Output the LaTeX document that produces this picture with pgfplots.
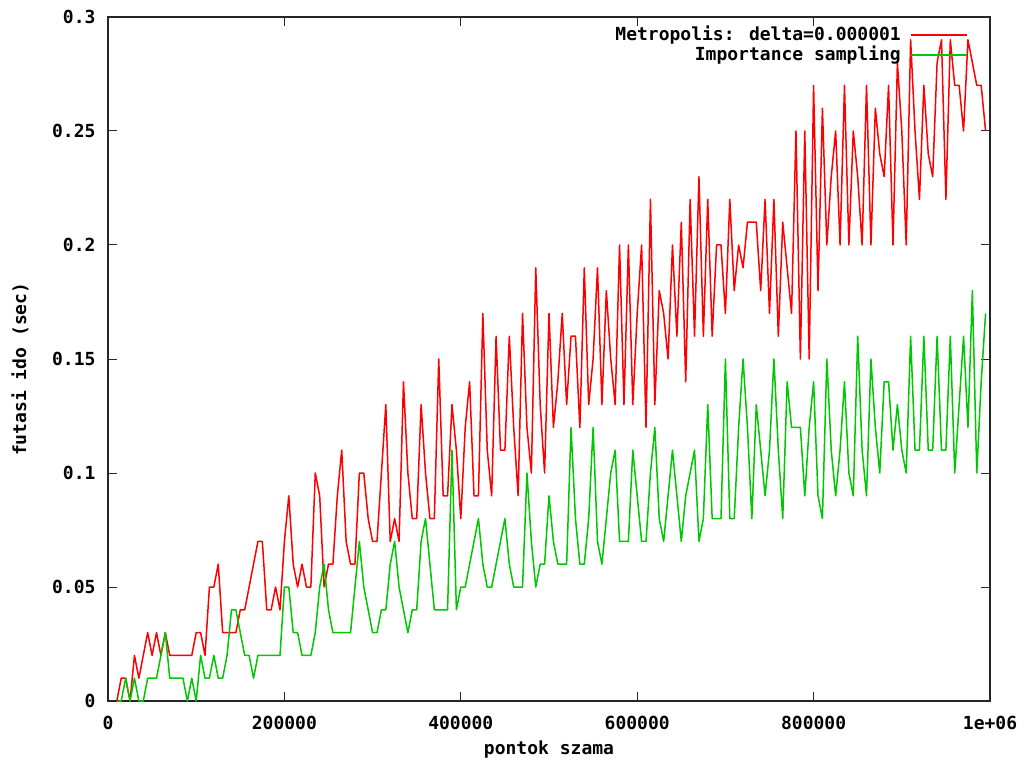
\documentclass[border=0pt]{standalone}
\usepackage{fontspec}
\setmainfont{DejaVu Sans Mono}
\usepackage{pgfplots}
\pgfplotsset{compat=1.18}
\usepackage{pgfplotstable}
\definecolor{gpred}{RGB}{255,0,0}
\definecolor{gpgreen}{RGB}{0,200,0}
\newcommand{\gpf}{\fontsize{18}{21}\selectfont\bfseries}

\pgfplotstableread{
x y
10000 0
15000 0.01
20000 0.01
25000 0
30000 0.02
35000 0.01
40000 0.02
45000 0.03
50000 0.02
55000 0.03
60000 0.02
65000 0.03
70000 0.02
75000 0.02
80000 0.02
85000 0.02
90000 0.02
95000 0.02
100000 0.03
105000 0.03
110000 0.02
115000 0.05
120000 0.05
125000 0.06
130000 0.03
135000 0.03
140000 0.03
145000 0.03
150000 0.04
155000 0.04
160000 0.05
165000 0.06
170000 0.07
175000 0.07
180000 0.04
185000 0.04
190000 0.05
195000 0.04
200000 0.07
205000 0.09
210000 0.06
215000 0.05
220000 0.06
225000 0.05
230000 0.05
235000 0.10
240000 0.09
245000 0.05
250000 0.06
255000 0.06
260000 0.09
265000 0.11
270000 0.07
275000 0.06
280000 0.06
285000 0.10
290000 0.10
295000 0.08
300000 0.07
305000 0.07
310000 0.10
315000 0.13
320000 0.07
325000 0.08
330000 0.07
335000 0.14
340000 0.10
345000 0.08
350000 0.08
355000 0.13
360000 0.10
365000 0.08
370000 0.08
375000 0.15
380000 0.09
385000 0.09
390000 0.13
395000 0.11
400000 0.08
405000 0.12
410000 0.14
415000 0.09
420000 0.09
425000 0.17
430000 0.11
435000 0.09
440000 0.16
445000 0.11
450000 0.11
455000 0.16
460000 0.12
465000 0.09
470000 0.17
475000 0.12
480000 0.10
485000 0.19
490000 0.13
495000 0.10
500000 0.17
505000 0.12
510000 0.14
515000 0.17
520000 0.13
525000 0.16
530000 0.16
535000 0.12
540000 0.19
545000 0.13
550000 0.15
555000 0.19
560000 0.13
565000 0.18
570000 0.15
575000 0.13
580000 0.20
585000 0.13
590000 0.20
595000 0.13
600000 0.17
605000 0.20
610000 0.12
615000 0.22
620000 0.13
625000 0.18
630000 0.17
635000 0.15
640000 0.20
645000 0.16
650000 0.21
655000 0.14
660000 0.22
665000 0.16
670000 0.23
675000 0.16
680000 0.22
685000 0.16
690000 0.20
695000 0.20
700000 0.17
705000 0.22
710000 0.18
715000 0.20
720000 0.19
725000 0.21
730000 0.21
735000 0.21
740000 0.18
745000 0.22
750000 0.17
755000 0.22
760000 0.16
765000 0.21
770000 0.19
775000 0.17
780000 0.25
785000 0.15
790000 0.25
795000 0.15
800000 0.27
805000 0.18
810000 0.26
815000 0.20
820000 0.23
825000 0.25
830000 0.20
835000 0.27
840000 0.20
845000 0.25
850000 0.23
855000 0.20
860000 0.27
865000 0.20
870000 0.26
875000 0.24
880000 0.23
885000 0.27
890000 0.20
895000 0.28
900000 0.25
905000 0.20
910000 0.29
915000 0.25
920000 0.22
925000 0.27
930000 0.24
935000 0.23
940000 0.28
945000 0.29
950000 0.22
955000 0.29
960000 0.27
965000 0.27
970000 0.25
975000 0.29
980000 0.28
985000 0.27
990000 0.27
995000 0.25
}\metro

\pgfplotstableread{
x y
10000 0
15000 0
20000 0.01
25000 0
30000 0.01
35000 0
40000 0
45000 0.01
50000 0.01
55000 0.01
60000 0.02
65000 0.03
70000 0.01
75000 0.01
80000 0.01
85000 0.01
90000 0
95000 0.01
100000 0
105000 0.02
110000 0.01
115000 0.01
120000 0.02
125000 0.01
130000 0.01
135000 0.02
140000 0.04
145000 0.04
150000 0.03
155000 0.02
160000 0.02
165000 0.01
170000 0.02
175000 0.02
180000 0.02
185000 0.02
190000 0.02
195000 0.02
200000 0.05
205000 0.05
210000 0.03
215000 0.03
220000 0.02
225000 0.02
230000 0.02
235000 0.03
240000 0.05
245000 0.06
250000 0.04
255000 0.03
260000 0.03
265000 0.03
270000 0.03
275000 0.03
280000 0.05
285000 0.07
290000 0.05
295000 0.04
300000 0.03
305000 0.03
310000 0.04
315000 0.04
320000 0.06
325000 0.07
330000 0.05
335000 0.04
340000 0.03
345000 0.04
350000 0.04
355000 0.07
360000 0.08
365000 0.06
370000 0.04
375000 0.04
380000 0.04
385000 0.04
390000 0.11
395000 0.04
400000 0.05
405000 0.05
410000 0.06
415000 0.07
420000 0.08
425000 0.06
430000 0.05
435000 0.05
440000 0.06
445000 0.07
450000 0.08
455000 0.06
460000 0.05
465000 0.05
470000 0.05
475000 0.10
480000 0.07
485000 0.05
490000 0.06
495000 0.06
500000 0.09
505000 0.07
510000 0.06
515000 0.06
520000 0.06
525000 0.12
530000 0.08
535000 0.06
540000 0.06
545000 0.08
550000 0.12
555000 0.07
560000 0.06
565000 0.08
570000 0.10
575000 0.11
580000 0.07
585000 0.07
590000 0.07
595000 0.11
600000 0.09
605000 0.07
610000 0.07
615000 0.10
620000 0.12
625000 0.08
630000 0.07
635000 0.09
640000 0.11
645000 0.09
650000 0.07
655000 0.09
660000 0.10
665000 0.11
670000 0.07
675000 0.08
680000 0.13
685000 0.08
690000 0.08
695000 0.08
700000 0.15
705000 0.08
710000 0.08
715000 0.12
720000 0.15
725000 0.12
730000 0.08
735000 0.13
740000 0.11
745000 0.09
750000 0.11
755000 0.15
760000 0.11
765000 0.08
770000 0.14
775000 0.12
780000 0.12
785000 0.12
790000 0.09
795000 0.12
800000 0.14
805000 0.09
810000 0.08
815000 0.15
820000 0.11
825000 0.09
830000 0.11
835000 0.14
840000 0.10
845000 0.09
850000 0.16
855000 0.11
860000 0.09
865000 0.15
870000 0.12
875000 0.10
880000 0.14
885000 0.14
890000 0.11
895000 0.13
900000 0.11
905000 0.10
910000 0.16
915000 0.11
920000 0.11
925000 0.16
930000 0.11
935000 0.11
940000 0.16
945000 0.11
950000 0.11
955000 0.16
960000 0.10
965000 0.13
970000 0.16
975000 0.12
980000 0.18
985000 0.10
990000 0.14
995000 0.17
}\importance

\begin{document}
\begin{tikzpicture}
\begin{axis}[
  name=ax,
  scale only axis,
  width=882pt, height=684pt,
  xmin=0, xmax=1000000, ymin=0, ymax=0.3,
  xtick={0,200000,400000,600000,800000,1000000},
  xticklabels={0,200000,400000,600000,800000,1e+06},
  ytick={0,0.05,0.1,0.15,0.2,0.25,0.3},
  yticklabels={0,0.05,0.1,0.15,0.2,0.25,0.3},
  scaled ticks=false,
  /pgf/number format/assume math mode=true,
  font=\gpf,
  ticklabel style={font=\gpf},
  tick align=inside,
  major tick length=9pt,
  minor tick num=0,
  tick style={black!85, line width=1pt},
  axis line style={black!85, line width=1.2pt},
  xticklabel style={anchor=base, yshift=-28pt},
  yticklabel style={anchor=east, xshift=-9pt},
  xlabel={pontok szama},
  ylabel={futasi ido (sec)},
  every axis x label/.style={at={(axis description cs:0.5,-0.0716)}, anchor=center, font=\gpf},
  every axis y label/.style={at={(axis description cs:-0.0998,0.485)}, anchor=center, rotate=90, font=\gpf},
  legend plot pos=right,
  legend cell align=right,
  legend style={at={(1,1)}, anchor=north east, xshift=-22pt, yshift=-9pt,
    draw=none, fill=none, inner sep=0pt, row sep=0pt, column sep=8pt,
    font=\gpf, nodes={inner sep=1.5pt, text height=13pt, text depth=4pt}},
]
\addplot[gpred, line width=1.5pt, line join=round,
  legend image code/.code={\draw[gpred, line width=1.5pt] (0pt,0.25ex) -- (56pt,0.25ex);}]
  table[x=x,y=y] {\metro};
\addlegendentry{Metropolis: delta=0.000001}
\addplot[gpgreen, line width=1.5pt, line join=round,
  legend image code/.code={\draw[gpgreen, line width=1.5pt] (0pt,0.25ex) -- (56pt,0.25ex);}]
  table[x=x,y=y] {\importance};
\addlegendentry{Importance sampling}
\end{axis}
\path ([xshift=-108pt,yshift=-63pt]ax.south west) rectangle ([xshift=35pt,yshift=17pt]ax.north east);
\end{tikzpicture}
\end{document}
